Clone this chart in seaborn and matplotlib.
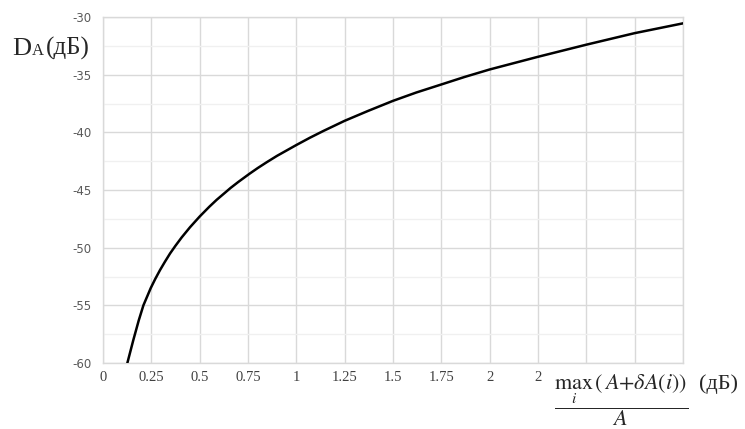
import numpy as np
import pandas as pd
import matplotlib
matplotlib.use("Agg")
import matplotlib.pyplot as plt
import seaborn as sns

# Data
x_vals = [0.126, 0.157, 0.185, 0.209, 0.247, 0.27, 0.295, 0.32, 0.347, 0.375, 0.407,
          0.45, 0.5, 0.55, 0.588, 0.63, 0.66, 0.7, 0.757, 0.8, 0.847, 0.9, 1.0,
          1.07, 1.14, 1.25, 1.37, 1.5, 1.62, 1.75, 1.87, 2.0, 2.25, 2.5, 2.75, 3.0]
y_vals = [-60.0, -58.0, -56.3, -55.0, -53.5, -52.72, -51.94, -51.23, -50.5, -49.83, -49.11,
          -48.23, -47.3, -46.45, -45.85, -45.25, -44.82, -44.3, -43.6, -43.1, -42.59,
          -42.04, -41.1, -40.47, -39.88, -39.0, -38.15, -37.27, -36.55, -35.85, -35.2,
          -34.55, -33.45, -32.4, -31.4, -30.55]
x_ticks = [0, 0.25, 0.5, 0.75, 1.0, 1.25, 1.5, 1.75, 2.0, 2.25]
x_tick_labels = ["0", "0.25", "0.5", "0.75", "1", "1.25", "1.5", "1.75", "2", "2"]
y_ticks = [-60, -55, -50, -45, -40, -35, -30]
y_tick_labels = ["-60", "-55", "-50", "-45", "-40", "-35", "-30"]

df = pd.DataFrame({"x": x_vals, "y": y_vals})

sns.set_theme(style="white")
plt.rcParams["font.family"] = ["DejaVu Sans"]
plt.rcParams["mathtext.fontset"] = "stix"

fig = plt.figure(figsize=(7.45, 4.29), dpi=100)
ax = fig.add_axes([103 / 745, 1 - 363 / 429, 580 / 745, 346 / 429])

sns.lineplot(data=df, x="x", y="y", sort=False, color="black", linewidth=1.8, ax=ax, zorder=5)

ax.set_xlim(0, 3)
ax.set_ylim(-60, -30)

# grid
ax.set_xticks(np.arange(0, 3.01, 0.25))
ax.set_yticks(y_ticks)
ax.set_yticks(np.arange(-57.5, -30, 5), minor=True)
ax.grid(which="major", color="#d9d9d9", linewidth=1.0)
ax.grid(which="minor", axis="y", color="#f0f0f0", linewidth=1.0)
ax.set_axisbelow(True)
for s in ax.spines.values():
    s.set_color("#d9d9d9")
    s.set_linewidth(1.0)

# tick labels
labels = x_tick_labels + [""] * (13 - len(x_tick_labels))
ax.set_xticklabels(labels, family="Liberation Serif", fontsize=10.5, color="#404040")
ax.set_yticklabels(y_tick_labels, fontsize=8.5, color="#595959")
ax.tick_params(axis="both", which="both", length=0)
ax.tick_params(axis="x", pad=6)
ax.tick_params(axis="y", pad=8)
ax.set_xlabel("")
ax.set_ylabel("")

# y axis label
fig.text(12 / 745, 1 - 55 / 429, "D", family="Liberation Serif", fontsize=19,
         ha="left", va="baseline")
fig.text(32 / 745, 1 - 55 / 429, "A", family="Liberation Serif", fontsize=12,
         ha="left", va="baseline")
fig.text(46 / 745, 1 - 55 / 429, "(дБ)", family="Liberation Serif", fontsize=18,
         ha="left", va="baseline")

# x axis label (formula)
fig.text(621 / 745, 1 - 400 / 429,
         r"$\dfrac{\max_{i}\,\left(\,A+\delta A(i)\right)}{A}$",
         fontsize=16, ha="center", va="center")
fig.text(699 / 745, 1 - 389 / 429, "(дБ)", family="Liberation Serif", fontsize=16,
         ha="left", va="baseline")

fig.savefig("out.png", dpi=100, facecolor="white")
